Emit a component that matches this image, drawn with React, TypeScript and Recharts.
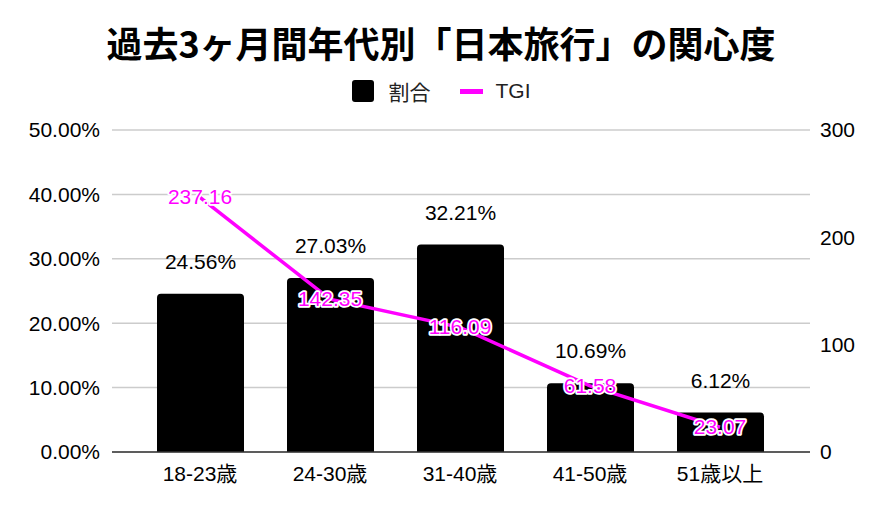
import { ComposedChart, Bar, Line, XAxis, YAxis, CartesianGrid, LabelList } from 'recharts';

const AGE_GROUPS = ['18-23歳', '24-30歳', '31-40歳', '41-50歳', '51歳以上'];
const SHARE = [24.56, 27.03, 32.21, 10.69, 6.12];
const TGI = [237.16, 142.35, 116.09, 61.58, 23.07];
const LEFT_TICKS = [0, 10, 20, 30, 40, 50];
const RIGHT_TICKS = [0, 100, 200, 300];

const MAGENTA = '#ff00ff';
const FONT = "'Liberation Sans', Arial, 'Noto Sans CJK JP', sans-serif";

const tgiLabel = (props: any) => {
    const { x, y, value } = props;
    return (
        <text x={x} y={y} dy={7} textAnchor="middle" fontSize={21} fontFamily={FONT}
            fill={MAGENTA} stroke="#fff" strokeWidth={3.5} strokeLinejoin="round" style={{ paintOrder: 'stroke' }}>
            {value.toFixed(2)}
        </text>
    );
};

const App = () => {
    const data = AGE_GROUPS.map((name, i) => ({ name, share: SHARE[i], tgi: TGI[i] }));

    return (
        <div style={{ position: 'absolute', left: 0, top: 0, width: 882, height: 512, background: '#fff', fontFamily: FONT }}>
            <div style={{ position: 'absolute', top: 20, left: 0, width: 882, textAlign: 'center', fontSize: 36, fontWeight: 700, fontFamily: "'Noto Sans CJK JP', sans-serif", color: '#000', lineHeight: '44px' }}>
                過去3ヶ月間年代別「日本旅行」の関心度
            </div>
            <div style={{ position: 'absolute', top: 79, left: 0, width: 882, display: 'flex', justifyContent: 'center', alignItems: 'center', fontSize: 21, color: '#222', height: 24 }}>
                <span style={{ display: 'inline-block', width: 22, height: 22, background: '#000', borderRadius: 3, marginRight: 15 }} />
                <span style={{ marginRight: 29, fontFamily: "'Noto Sans CJK JP', sans-serif" }}>割合</span>
                <span style={{ display: 'inline-block', width: 23, height: 5, background: MAGENTA, marginRight: 13 }} />
                <span>TGI</span>
            </div>
            <ComposedChart width={882} height={512} data={data}
                margin={{ top: 130, right: 0, bottom: 0, left: 12 }}
                style={{ position: 'absolute', left: 0, top: 0 }}>
                <CartesianGrid yAxisId="left" vertical={false} stroke="#cccccc" strokeWidth={1.5} />
                <XAxis dataKey="name" padding={{ left: 23, right: 25 }} axisLine={{ stroke: '#333', strokeWidth: 1.5 }}
                    tickLine={false} tick={{ fontSize: 21, fill: '#000', fontFamily: FONT }} tickMargin={8} height={60} />
                <YAxis yAxisId="left" domain={[0, 50]} ticks={LEFT_TICKS} width={100} axisLine={false} tickLine={false}
                    tickSize={0} tickMargin={12} tickFormatter={(v: number) => `${v.toFixed(2)}%`}
                    tick={{ fontSize: 21, fill: '#000', fontFamily: FONT }} />
                <YAxis yAxisId="right" orientation="right" domain={[0, 300]} ticks={RIGHT_TICKS} width={72}
                    axisLine={false} tickLine={false} tickSize={0} tickMargin={10}
                    tick={{ fontSize: 21, fill: '#000', fontFamily: FONT }} />
                <Bar yAxisId="left" dataKey="share" fill="#000" barSize={87} radius={[4, 4, 0, 0]} isAnimationActive={false}>
                    <LabelList dataKey="share" position="top" offset={25} fontSize={21} fill="#000" fontFamily={FONT}
                        formatter={(v: any) => `${Number(v).toFixed(2)}%`} />
                </Bar>
                <Line yAxisId="right" dataKey="tgi" stroke={MAGENTA} strokeWidth={3.5} dot={false} activeDot={false}
                    isAnimationActive={false}>
                    <LabelList dataKey="tgi" content={tgiLabel} />
                </Line>
            </ComposedChart>
        </div>
    );
};

export default App;
